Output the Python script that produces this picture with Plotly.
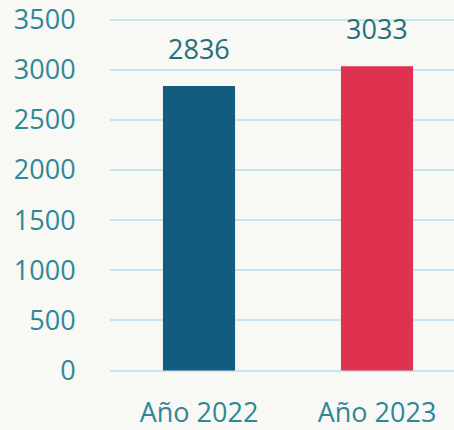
import plotly.graph_objects as go

categories = ["Año 2022", "Año 2023"]
values = [2836, 3033]
colors = ["#135b80", "#df3150"]
y_ticks = [0, 500, 1000, 1500, 2000, 2500, 3000, 3500]

fig = go.Figure()
fig.add_trace(go.Bar(x=categories, y=values, marker=dict(color=colors, line=dict(width=0)),
                     width=0.405, hoverinfo="skip"))

for c, v in zip(categories, values):
    fig.add_annotation(x=c, y=v, text=str(v), showarrow=False, yanchor="bottom", yshift=17,
                       font=dict(family="Open Sans", size=27, color="#22707e"))

fig.update_layout(
    width=454, height=430,
    margin=dict(l=110, r=0, t=16, b=54),
    paper_bgcolor="#f8f8f4", plot_bgcolor="#f8f8f4",
    showlegend=False,
    font=dict(family="Open Sans", size=27, color="#2f8797"),
)
fig.update_xaxes(range=[-0.5, 1.4326], showgrid=False, zeroline=False, showline=False,
                 ticks="outside", ticklen=17, tickcolor="rgba(0,0,0,0)",
                 tickfont=dict(family="Open Sans", size=27, color="#2f8797"))
fig.update_yaxes(range=[-15, 3515], tickvals=y_ticks, showgrid=True, gridcolor="#c8e5ef", gridwidth=2,
                 zeroline=True, zerolinecolor="#c8e5ef", zerolinewidth=2,
                 showline=False, ticklabeloverflow="allow",
                 ticks="outside", ticklen=28, tickcolor="rgba(0,0,0,0)",
                 tickfont=dict(family="Open Sans", size=27, color="#2f8797"))

fig.write_html("out.html", config={"displayModeBar": False},
               post_script="document.body.style.margin='0';document.body.style.background='#f8f8f4';")
